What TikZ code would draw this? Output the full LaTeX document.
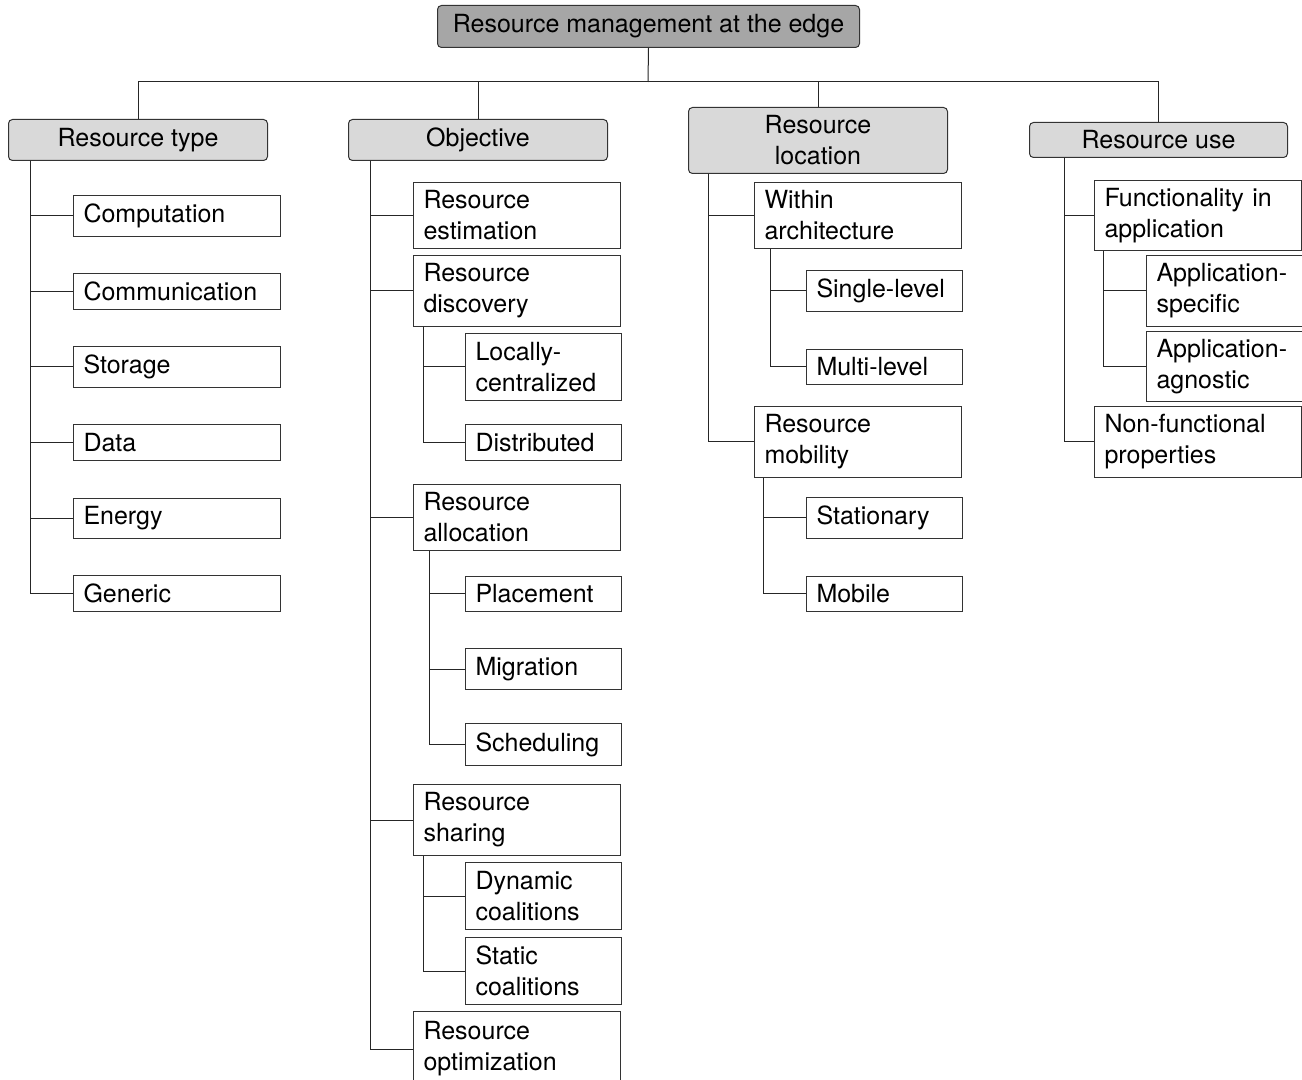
\documentclass[tikz,border=0pt]{standalone}
\usepackage{fontspec}
\setmainfont{TeX Gyre Heros}
\begin{document}
\begin{tikzpicture}[x=0.5pt,y=-0.5pt,
  base/.style={draw=black!80, line width=0.5pt, anchor=north west, inner ysep=0pt,
    font=\fontsize{12.5pt}{15.5pt}\selectfont},
  rootbox/.style={base, fill=black!35, rounded corners=2pt, align=center, inner xsep=0pt},
  catbox/.style={base, fill=black!15, rounded corners=2pt, align=center, inner xsep=0pt},
  leafA/.style={base, fill=white, align=left, inner xsep=5pt, text width=93.5pt},
  leafB/.style={base, fill=white, align=left, inner xsep=5pt, text width=68pt},
  conn/.style={draw=black!85, line width=0.5pt}]
\useasboundingbox[fill=white] (0,0) rectangle (1302,1080);

% root and categories
\node[rootbox, minimum width=211pt, minimum height=21pt] (root) at (437,5) {Resource management at the edge};
\node[catbox, minimum width=129.5pt, minimum height=20.5pt] (rt) at (8,119) {Resource type};
\node[catbox, minimum width=129.5pt, minimum height=20.5pt] (obj) at (348,119) {Objective};
\node[catbox, minimum width=129.5pt, minimum height=33pt] (loc) at (688,107) {Resource\\location};
\node[catbox, minimum width=129pt, minimum height=17.5pt] (use) at (1029,122) {Resource use};

% Resource type
\node[leafA, minimum height=20.5pt] (comp) at (73,195) {Computation};
\node[leafA, minimum height=18pt] (commu) at (73,273) {Communication};
\node[leafA, minimum height=20.5pt] (stor) at (73,346) {Storage};
\node[leafA, minimum height=18pt] (data) at (73,424) {Data};
\node[leafA, minimum height=20pt] (ener) at (73,498) {Energy};
\node[leafA, minimum height=18pt] (gen) at (73,575) {Generic};

% Objective
\node[leafA, minimum height=33pt] (est) at (413,182) {Resource\\estimation};
\node[leafA, minimum height=35.5pt] (disc) at (413,255) {Resource\\discovery};
\node[leafB, minimum height=33.5pt] (lc) at (465,333) {Locally-\\centralized};
\node[leafB, minimum height=18pt] (dist) at (465,424) {Distributed};
\node[leafA, minimum height=33pt] (alloc) at (413,484) {Resource\\allocation};
\node[leafB, minimum height=17.5pt] (plac) at (465,576) {Placement};
\node[leafB, minimum height=20.5pt] (migr) at (465,648) {Migration};
\node[leafB, minimum height=21pt] (sched) at (465,723) {Scheduling};
\node[leafA, minimum height=35.5pt] (shar) at (413,784) {Resource\\sharing};
\node[leafB, minimum height=33.5pt] (dyn) at (465,862) {Dynamic\\coalitions};
\node[leafB, minimum height=33.5pt] (stat) at (465,937) {Static\\coalitions};
\node[leafA, minimum height=37.5pt] (opt) at (413,1011) {Resource\\optimization};

% Resource location
\node[leafA, minimum height=33pt] (within) at (754,182) {Within\\architecture};
\node[leafB, minimum height=20.5pt] (single) at (806,270) {Single-level};
\node[leafB, minimum height=17.5pt] (multi) at (806,349) {Multi-level};
\node[leafA, minimum height=35.5pt] (mob) at (754,406) {Resource\\mobility};
\node[leafB, minimum height=20.5pt] (stati) at (806,497) {Stationary};
\node[leafB, minimum height=17.5pt] (mobile) at (806,576) {Mobile};

% Resource use
\node[leafA, minimum height=35pt] (func) at (1094,180) {Functionality in\\application};
\node[leafB, minimum height=35.5pt] (aspec) at (1146,255) {Application-\\specific};
\node[leafB, minimum height=35pt] (agn) at (1146,331) {Application-\\agnostic};
\node[leafA, minimum height=35.5pt] (nonf) at (1094,406) {Non-functional\\properties};

% top bus
\coordinate (bus) at (648,82);
\draw[conn] (root.south) -- (bus);
\draw[conn] (rt.north) |- (bus);
\draw[conn] (obj.north) |- (bus);
\draw[conn] (loc.north) |- (bus);
\draw[conn] (use.north) |- (bus);

% Resource type children
\foreach \c in {comp,commu,stor,data,ener,gen}
  \draw[conn] ([xshift=11pt]rt.south west) |- (\c.west);

% Objective children
\foreach \c in {est,disc,alloc,shar,opt}
  \draw[conn] ([xshift=11pt]obj.south west) |- (\c.west);
\foreach \c in {lc,dist}
  \draw[conn] ([xshift=5pt]disc.south west) |- (\c.west);
\foreach \c in {plac,migr,sched}
  \draw[conn] ([xshift=8pt]alloc.south west) |- (\c.west);
\foreach \c in {dyn,stat}
  \draw[conn] ([xshift=5pt]shar.south west) |- (\c.west);

% Resource location children
\foreach \c in {within,mob}
  \draw[conn] ([xshift=10pt]loc.south west) |- (\c.west);
\foreach \c in {single,multi}
  \draw[conn] ([xshift=8pt]within.south west) |- (\c.west);
\foreach \c in {stati,mobile}
  \draw[conn] ([xshift=4.5pt]mob.south west) |- (\c.west);

% Resource use children
\foreach \c in {func,nonf}
  \draw[conn] ([xshift=17.5pt]use.south west) |- (\c.west);
\foreach \c in {aspec,agn}
  \draw[conn] ([xshift=4.5pt]func.south west) |- (\c.west);
\end{tikzpicture}
\end{document}
